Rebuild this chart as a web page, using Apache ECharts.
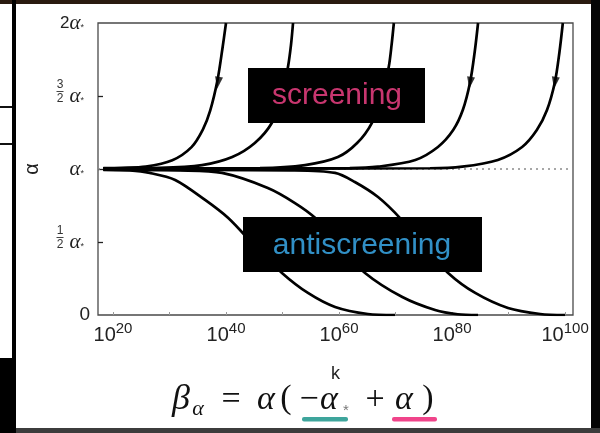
<!DOCTYPE html>
<html><head><meta charset="utf-8">
<script src="https://cdn.jsdelivr.net/npm/echarts@6/dist/echarts.min.js"></script>
<style>html,body{margin:0;padding:0;background:#fff}#c{width:600px;height:433px}</style>
</head><body><div id="c"></div>
<script>
// x = log10(k), y = alpha / alpha*
const xLabelExps = [20, 40, 60, 80, 100];
const xTickExps = [20, 30, 40, 50, 60, 70, 80, 90, 100];
const yTickValues = [0, 0.5, 1, 1.5, 2];
const yTickCoefs = ['0', '1/2', '', '3/2', '2'];

const screening1 = [[18.3,1.006],[21.5,1.008],[25.8,1.016],[30.5,1.06],[33.9,1.15],[35.9,1.27],[37.2,1.40],[38.5,1.61],[39.35,1.82],[40.0,2.0]];
const screening2 = [[18.3,1.005],[28.3,1.008],[35.75,1.027],[41.1,1.082],[45.1,1.178],[48.1,1.315],[49.9,1.50],[50.97,1.70],[51.5,1.85],[51.86,2.0]];
const screening3 = [[18.3,1.004],[46.0,1.007],[54.0,1.027],[59.8,1.082],[63.2,1.178],[65.8,1.315],[67.6,1.50],[68.8,1.70],[69.3,1.85],[69.7,2.0]];
const screening4 = [[18.3,1.003],[61.9,1.006],[66.9,1.016],[73.5,1.062],[77.5,1.151],[80.2,1.267],[81.9,1.404],[83.2,1.596],[84.0,1.80],[84.6,2.0]];
const screening5 = [[18.3,1.002],[76.1,1.005],[81.8,1.016],[88.1,1.062],[92.4,1.151],[95.0,1.267],[96.8,1.404],[98.2,1.596],[99.0,1.80],[99.6,2.0]];

const antiscreening1 = [[18.3,0.994],[23.0,0.99],[26.5,0.973],[31.0,0.925],[36.3,0.788],[40.4,0.664],[45.1,0.473],[49.9,0.288],[54.5,0.151],[59.3,0.055],[65.1,0.007],[69.9,0]];
const antiscreening2 = [[18.3,0.995],[31.9,0.99],[39.3,0.973],[47.4,0.870],[52.2,0.767],[55.8,0.664],[60.2,0.473],[64.6,0.288],[71.2,0.123],[77.0,0.034],[81.0,0.005],[84.6,0]];
const antiscreening3 = [[18.3,0.996],[51.3,0.99],[59.3,0.973],[62.8,0.911],[66.9,0.808],[70.8,0.664],[75.0,0.473],[79.3,0.288],[84.1,0.151],[89.9,0.048],[95.6,0.007],[100.0,0]];

const arrowPoints = [[38.6,1.59],[50.5,1.59],[68.3,1.59],[83.2,1.59],[98.2,1.59]];
const fixedPoint = [[17.35,1],[101.4,1]];

const curves = [screening1, screening2, screening3, screening4, screening5,
                antiscreening1, antiscreening2, antiscreening3];

const serif = "'Liberation Serif','DejaVu Serif',serif";
const sans = "'Liberation Sans','Arial',sans-serif";

const series = [{
  type: 'line', data: fixedPoint, showSymbol: false, silent: true, z: 1,
  lineStyle: {color: '#8a8a8a', width: 1.5, type: [2, 4]}
}];
curves.forEach(c => series.push({
  type: 'line', data: c, showSymbol: false, smooth: 0.3, z: 3,
  lineStyle: {color: '#000', width: 2.7}
}));
series.push({
  type: 'scatter', data: arrowPoints, symbol: 'triangle', symbolSize: [8, 12],
  symbolRotate: 171, itemStyle: {color: '#000'}, z: 4
});

const alphaRich = {
  a: {fontFamily: serif, fontStyle: 'italic', fontSize: 21, color: '#222'},
  st: {fontFamily: sans, fontSize: 9, color: '#333', padding: [9, 0, 0, 0]},
  c: {fontFamily: sans, fontSize: 17, color: '#222'},
  z: {fontFamily: sans, fontSize: 19, color: '#222'},
  sp: {width: 6}
};

const option = {
  backgroundColor: '#fff',
  animation: false,
  grid: {left: 98, right: 27, top: 23, bottom: 118, show: true, borderColor: '#4a4a4a', borderWidth: 1.3},
  xAxis: {
    type: 'value', min: 17.35, max: 101.4,
    name: 'k', nameLocation: 'middle', nameGap: 50,
    nameTextStyle: {fontFamily: sans, fontSize: 18, color: '#222'},
    axisLine: {show: false},
    splitLine: {show: false},
    axisTick: {show: true, inside: true, length: 3, customValues: xTickExps, lineStyle: {color: '#999'}},
    axisLabel: {
      customValues: xLabelExps, margin: 6,
      formatter: v => '{b|10}{s|' + v + '}',
      rich: {
        b: {fontFamily: sans, fontSize: 20, color: '#222', lineHeight: 24, verticalAlign: 'bottom'},
        s: {fontFamily: sans, fontSize: 15, color: '#222', lineHeight: 4, verticalAlign: 'top'}
      }
    }
  },
  yAxis: [{
    type: 'value', min: 0, max: 2,
    name: 'α', nameLocation: 'middle', nameGap: 56,
    nameTextStyle: {fontFamily: sans, fontSize: 20, color: '#222'},
    axisLine: {show: false},
    splitLine: {show: false},
    axisTick: {show: true, inside: true, length: 5, customValues: [0.5, 1, 1.5], lineStyle: {color: '#222', width: 1.3}},
    axisLabel: {
      customValues: yTickValues, margin: 8,
      formatter: v => {
        const coef = yTickCoefs[yTickValues.indexOf(v)];
        if (coef === '0') return '{z|0}';
        if (coef === '' || coef.indexOf('/') >= 0) return '{a|α}{st|*}{sp|}';
        return '{c|' + coef + '}{a|α}{st|*}{sp|}';
      },
      rich: alphaRich
    }
  }, {
    type: 'value', min: 0, max: 2, position: 'left',
    axisLine: {show: false}, axisTick: {show: false}, splitLine: {show: false},
    axisLabel: {
      customValues: [0.5, 1.5], margin: 38, align: 'center',
      formatter: v => {
        const parts = yTickCoefs[yTickValues.indexOf(v)].split('/');
        return '{n|' + parts[0] + '}\n{bar| }\n{d|' + parts[1] + '}\n{g| }';
      },
      rich: {
        n: {fontFamily: sans, fontSize: 12, color: '#333', lineHeight: 10, align: 'center'},
        bar: {fontSize: 1, lineHeight: 3, width: 7, height: 1, backgroundColor: '#444', align: 'center'},
        d: {fontFamily: sans, fontSize: 12, color: '#333', lineHeight: 11, align: 'center'},
        g: {fontSize: 1, lineHeight: 8}
      }
    }
  }],
  series: series,
  graphic: [
    // photo frame
    {type: 'rect', shape: {x: 0, y: 0, width: 600, height: 4}, style: {fill: '#2a1a10'}, z: 200},
    {type: 'rect', shape: {x: 591, y: 0, width: 9, height: 433}, style: {fill: '#050505'}, z: 200},
    {type: 'rect', shape: {x: 0, y: 428, width: 600, height: 5}, style: {fill: '#3c3c3c'}, z: 200},
    {type: 'rect', shape: {x: 12, y: 0, width: 4, height: 433}, style: {fill: '#000'}, z: 200},
    {type: 'rect', shape: {x: 0, y: 358, width: 16, height: 75}, style: {fill: '#000'}, z: 200},
    {type: 'rect', shape: {x: 0, y: 106, width: 12, height: 2}, style: {fill: '#111'}, z: 200},
    {type: 'rect', shape: {x: 0, y: 143, width: 12, height: 2}, style: {fill: '#111'}, z: 200},
    // labels
    {type: 'rect', shape: {x: 248, y: 68, width: 177, height: 55}, style: {fill: '#000'}, z: 100},
    {type: 'text', x: 337, y: 96, z: 101, style: {text: 'screening', fill: '#c8366f', font: "30px 'Liberation Sans', Arial, sans-serif", align: 'center', verticalAlign: 'middle'}},
    {type: 'rect', shape: {x: 243, y: 217, width: 239, height: 55}, style: {fill: '#000'}, z: 100},
    {type: 'text', x: 362, y: 246, z: 101, style: {text: 'antiscreening', fill: '#3190c6', font: "30px 'Liberation Sans', Arial, sans-serif", align: 'center', verticalAlign: 'middle'}},
    // equation
    {type: 'text', x: 181, y: 400, z: 101, style: {text: 'β', fill: '#111', font: "italic 36px " + serif, align: 'center', verticalAlign: 'middle'}},
    {type: 'text', x: 198, y: 409, z: 101, style: {text: 'α', fill: '#111', font: "italic 22px " + serif, align: 'center', verticalAlign: 'middle'}},
    {type: 'text', x: 231, y: 400, z: 101, style: {text: '=', fill: '#111', font: "34px " + serif, align: 'center', verticalAlign: 'middle'}},
    {type: 'text', x: 266, y: 400, z: 101, style: {text: 'α', fill: '#111', font: "italic 34px " + serif, align: 'center', verticalAlign: 'middle'}},
    {type: 'text', x: 286, y: 399, z: 101, style: {text: '(', fill: '#111', font: "34px " + serif, align: 'center', verticalAlign: 'middle'}},
    {type: 'text', x: 309, y: 400, z: 101, style: {text: '−', fill: '#111', font: "34px " + serif, align: 'center', verticalAlign: 'middle'}},
    {type: 'text', x: 329, y: 400, z: 101, style: {text: 'α', fill: '#111', font: "italic 34px " + serif, align: 'center', verticalAlign: 'middle'}},
    {type: 'text', x: 346, y: 411, z: 101, style: {text: '*', fill: '#777', font: "15px " + sans, align: 'center', verticalAlign: 'middle'}},
    {type: 'text', x: 375, y: 400, z: 101, style: {text: '+', fill: '#111', font: "34px " + serif, align: 'center', verticalAlign: 'middle'}},
    {type: 'text', x: 404, y: 400, z: 101, style: {text: 'α', fill: '#111', font: "italic 34px " + serif, align: 'center', verticalAlign: 'middle'}},
    {type: 'text', x: 428, y: 399, z: 101, style: {text: ')', fill: '#111', font: "34px " + serif, align: 'center', verticalAlign: 'middle'}},
    {type: 'rect', shape: {x: 302, y: 417, width: 46, height: 4.5, r: 2}, style: {fill: '#3ea59c'}, z: 101},
    {type: 'rect', shape: {x: 392, y: 417, width: 45, height: 4.5, r: 2}, style: {fill: '#f0448a'}, z: 101}
  ]
};

const chart = echarts.init(document.getElementById('c'), null, {renderer: 'canvas'});
chart.setOption(option);
</script>
</body></html>
